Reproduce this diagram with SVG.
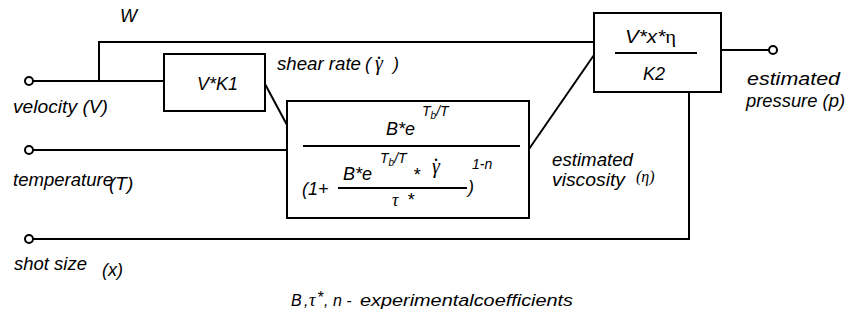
<svg xmlns="http://www.w3.org/2000/svg" width="856" height="332" viewBox="0 0 856 332">
<style>
text{font-family:"Liberation Sans",Arial,sans-serif;font-style:italic;font-size:18px;fill:#000}
.g{font-family:"Liberation Serif","Times New Roman",serif;font-style:italic;font-size:20px}
.gu{font-family:"Liberation Serif","Times New Roman",serif;font-style:normal}
.s{font-size:14px}
.n{font-size:16px}
.ln{stroke:#000;stroke-width:2;fill:none}
.box{stroke:#000;stroke-width:2;fill:#fff}
.term{stroke:#000;stroke-width:2;fill:#fff}
</style>
<rect width="856" height="332" fill="#fff"/>
<g id="connectors">
<line class="ln" x1="33" y1="81" x2="164" y2="81"/>
<path class="ln" d="M99,81 V42 H594"/>
<line class="ln" x1="265" y1="84" x2="287" y2="125"/>
<line class="ln" x1="33" y1="150" x2="287" y2="150"/>
<line class="ln" x1="529" y1="149" x2="594" y2="55"/>
<line class="ln" x1="721" y1="50" x2="769" y2="50"/>
<path class="ln" d="M33,239 H689 V92"/>
</g>
<g id="velocity">
<circle class="term" cx="29" cy="81" r="4"/>
<text x="13" y="113" textLength="95" lengthAdjust="spacingAndGlyphs">velocity (V)</text>
</g>
<g id="temperature">
<circle class="term" cx="29" cy="150" r="4"/>
<text x="13" y="186" textLength="100" lengthAdjust="spacingAndGlyphs">temperature</text>
<text x="109" y="190" style="font-size:19px">(T)</text>
</g>
<g id="shotsize">
<circle class="term" cx="29" cy="239" r="4"/>
<text x="14" y="270" textLength="73" lengthAdjust="spacingAndGlyphs">shot size</text>
<text x="102" y="276">(x)</text>
</g>
<g id="w-label">
<text x="120" y="22">W</text>
</g>
<g id="k1">
<rect class="box" x="164" y="54" width="101" height="57"/>
<text x="197" y="90" textLength="41" lengthAdjust="spacingAndGlyphs">V*K1</text>
</g>
<g id="shear-label">
<text x="277" y="70" textLength="84" lengthAdjust="spacingAndGlyphs">shear rate</text>
<text x="365" y="70">(</text>
<text class="g" x="375" y="70">γ<tspan dx="-6" dy="-11">.</tspan></text>
<text x="393" y="70">)</text>
</g>
<g id="viscosity-block">
<rect class="box" x="287" y="101" width="242" height="117"/>
<text x="386" y="135">B*e</text>
<text class="s" x="422" y="116">T<tspan dy="3" style="font-size:10px">b</tspan><tspan dy="-3">/T</tspan></text>
<line class="ln" x1="303" y1="146" x2="520" y2="146"/>
<text class="s" x="380" y="163">T<tspan dy="3" style="font-size:10px">b</tspan><tspan dy="-3">/T</tspan></text>
<text x="343" y="180">B*e</text>
<text x="413" y="181">*</text>
<text class="g" x="432" y="173">γ<tspan dx="-6" dy="-12">.</tspan></text>
<text class="s" x="472" y="169">1-n</text>
<text x="302" y="195">(1+</text>
<line class="ln" x1="338" y1="188" x2="467" y2="188"/>
<text x="468" y="193">)</text>
<text class="g" x="392" y="206" style="font-size:18px">τ</text>
<text x="407" y="206">*</text>
</g>
<g id="viscosity-label">
<text x="552" y="166" textLength="81" lengthAdjust="spacingAndGlyphs">estimated</text>
<text x="552" y="186" textLength="73" lengthAdjust="spacingAndGlyphs">viscosity</text>
<text class="g" x="636" y="182" style="font-size:16px">(η)</text>
</g>
<g id="pressure-block">
<rect class="box" x="594" y="13" width="127" height="79"/>
<text x="625" y="43" textLength="51" lengthAdjust="spacingAndGlyphs">V*x*<tspan class="gu">η</tspan></text>
<line class="ln" x1="615" y1="53" x2="697" y2="53"/>
<text x="643" y="80">K2</text>
</g>
<g id="pressure">
<circle class="term" cx="773" cy="50" r="4"/>
<text x="747" y="85" textLength="93" lengthAdjust="spacingAndGlyphs">estimated</text>
<text x="746" y="107" textLength="99" lengthAdjust="spacingAndGlyphs">pressure (p)</text>
</g>
<g id="note">
<text class="n" x="291" y="306">B</text>
<text class="n" x="304" y="306">,</text>
<text class="g" x="309" y="306" style="font-size:18px">τ</text>
<text class="n" x="317" y="303">*</text>
<text class="n" x="324" y="306">, n -</text>
<text class="n" x="360" y="306" textLength="213" lengthAdjust="spacingAndGlyphs">experimentalcoefficients</text>
</g>
</svg>
